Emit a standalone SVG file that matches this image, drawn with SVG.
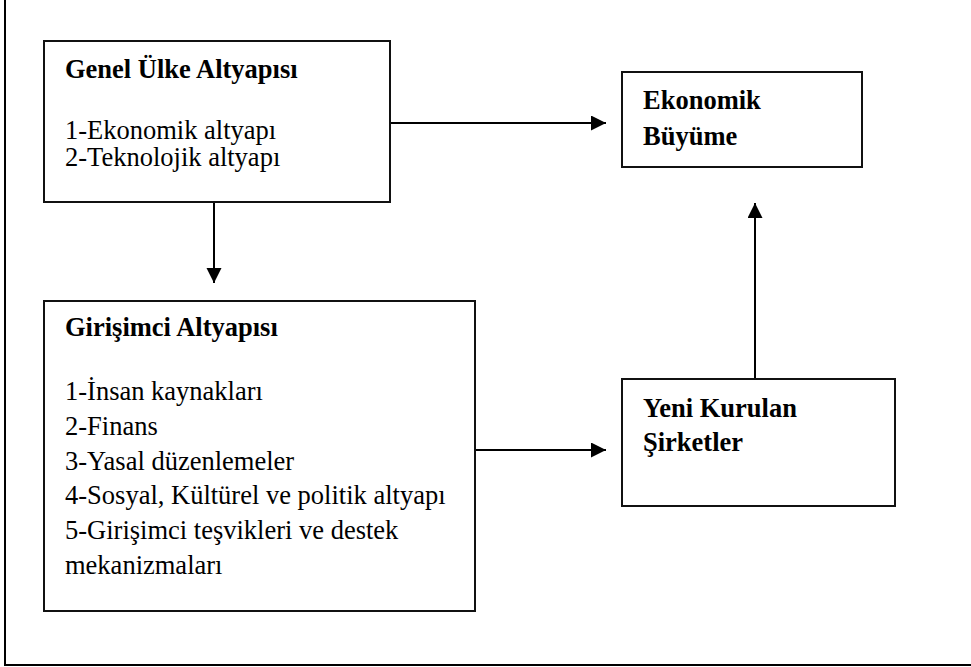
<svg xmlns="http://www.w3.org/2000/svg" width="971" height="667" viewBox="0 0 971 667">
  <style>
    .box { fill: #ffffff; stroke: #111111; stroke-width: 2; }
    .frame { fill: none; stroke: #000000; stroke-width: 2; }
    .edge { fill: none; stroke: #000000; stroke-width: 2; }
    text { font-family: 'Liberation Serif', 'Times New Roman', Times, serif; font-size: 26.5px; fill: #000000; }
    .b { font-weight: bold; }
  </style>
  <defs>
    <marker id="arrow" markerUnits="userSpaceOnUse" markerWidth="16" markerHeight="16" refX="15" refY="7.5" orient="auto">
      <path d="M0,0 L15,7.5 L0,15 Z" fill="#000000"/>
    </marker>
  </defs>

  <rect width="971" height="667" fill="#ffffff"/>

  <!-- page frame: left and bottom rules -->
  <path class="frame" d="M5,0 V665 H971"/>

  <!-- connectors -->
  <g id="connectors">
    <line class="edge" x1="391" y1="123" x2="606" y2="123" marker-end="url(#arrow)"/>
    <line class="edge" x1="214" y1="202" x2="214" y2="283" marker-end="url(#arrow)"/>
    <line class="edge" x1="476" y1="450" x2="606" y2="450" marker-end="url(#arrow)"/>
    <line class="edge" x1="755" y1="379" x2="755" y2="203" marker-end="url(#arrow)"/>
  </g>

  <g id="genel-ulke-altyapisi">
    <rect class="box" x="44" y="41" width="346" height="161"/>
    <text class="b" x="65" y="78">Genel Ülke Altyapısı</text>
    <text x="65" y="139">1-Ekonomik altyapı</text>
    <text x="65" y="166">2-Teknolojik altyapı</text>
  </g>

  <g id="ekonomik-buyume">
    <rect class="box" x="622" y="72" width="240" height="95"/>
    <text class="b" x="643" y="109">Ekonomik</text>
    <text class="b" x="643" y="145">Büyüme</text>
  </g>

  <g id="girisimci-altyapisi">
    <rect class="box" x="44" y="301" width="431" height="310"/>
    <text class="b" x="65" y="336">Girişimci Altyapısı</text>
    <text x="65" y="400">1-İnsan kaynakları</text>
    <text x="65" y="435">2-Finans</text>
    <text x="65" y="470">3-Yasal düzenlemeler</text>
    <text x="65" y="504">4-Sosyal, Kültürel ve politik altyapı</text>
    <text x="65" y="539">5-Girişimci teşvikleri ve destek</text>
    <text x="65" y="574">mekanizmaları</text>
  </g>

  <g id="yeni-kurulan-sirketler">
    <rect class="box" x="622" y="379" width="273" height="127"/>
    <text class="b" x="643" y="417">Yeni Kurulan</text>
    <text class="b" x="643" y="451">Şirketler</text>
  </g>
</svg>
